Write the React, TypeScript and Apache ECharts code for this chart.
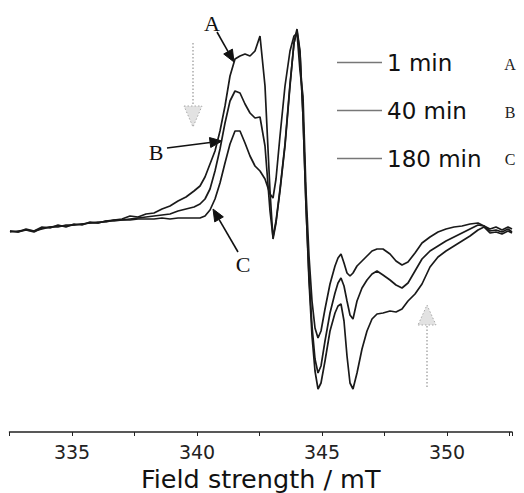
import React, { useEffect, useRef } from "react";
import * as echarts from "echarts";

// Magnetic field (mT)
const fields = [
  332.52, 332.84, 333.16, 333.48, 333.8, 334.12, 334.44, 334.76, 335.08, 335.4,
  335.72, 336.04, 336.36, 336.68, 337.0, 337.32, 337.64, 337.96, 338.28, 338.6,
  338.92, 339.24, 339.56, 339.88, 340.12, 340.32, 340.52, 340.72, 340.92, 341.12,
  341.32, 341.52, 341.72, 341.92, 342.12, 342.32, 342.52, 342.72, 342.92, 343.04,
  343.16, 343.32, 343.52, 343.72, 343.88, 344.0, 344.12, 344.24, 344.36, 344.48,
  344.6, 344.72, 344.84, 344.96, 345.12, 345.32, 345.52, 345.64, 345.76, 345.88,
  346.0, 346.12, 346.24, 346.4, 346.6, 346.8, 347.0, 347.2, 347.44, 347.72,
  347.96, 348.2, 348.44, 348.72, 349.0, 349.32, 349.64, 349.96, 350.28, 350.6,
  350.92, 351.24, 351.48, 351.72, 351.96, 352.2, 352.44, 352.6,
];

// EPR intensity (arb. units)
const spectrum1min = [
  2, 1, 4, 2, 6, 5, 8, 6, 9, 8,
  11, 10, 12, 13, 14, 17, 16, 19, 20, 24,
  27, 32, 36, 42, 47, 56, 69, 82, 102, 127,
  157, 174, 177, 179, 177, 182, 197, 147, 42, -6,
  10, 42, 87, 147, 190, 204, 182, 117, 27, -48,
  -103, -138, -156, -150, -128, -98, -80, -73, -71, -88,
  -123, -150, -156, -140, -116, -98, -86, -81, -80, -78,
  -79, -76, -68, -61, -51, -34, -24, -18, -13, -8,
  -3, 3, 6, 0, 1, -1, 2, 0,
];

const spectrum40min = [
  1, 2, 3, 1, 5, 6, 7, 7, 8, 9,
  10, 11, 11, 13, 13, 14, 15, 16, 17, 18,
  19, 22, 24, 26, 29, 34, 44, 62, 84, 110,
  132, 142, 140, 129, 120, 115, 116, 87, 22, -4,
  12, 44, 89, 149, 190, 202, 180, 117, 27, -43,
  -93, -126, -140, -133, -108, -80, -60, -50, -45, -53,
  -68, -82, -86, -68, -55, -47, -41, -38, -42, -47,
  -52, -55, -50, -38, -26, -18, -13, -8, -4, 0,
  4, 8, 7, 4, 6, 3, 6, 4,
];

const spectrum180min = [
  2, 1, 3, 2, 4, 6, 6, 8, 8, 9,
  10, 10, 12, 12, 13, 13, 14, 14, 14, 15,
  14, 15, 15, 15, 15, 17, 23, 34, 50, 70,
  89, 102, 102, 90, 77, 67, 62, 54, 39, 35,
  54, 97, 147, 182, 197, 200, 162, 137, 42, -23,
  -68, -95, -105, -98, -76, -51, -33, -25, -21, -30,
  -40, -43, -40, -33, -28, -23, -18, -16, -16, -21,
  -28, -32, -29, -20, -10, -4, 1, 4, 6, 7,
  9, 10, 7, 2, 3, 1, 4, 1,
];

const seriesNames = ["1 min", "40 min", "180 min"];
const seriesLetters = ["A", "B", "C"];
const tickLabels = [335, 340, 345, 350];

function arrow(x1: number, y1: number, x2: number, y2: number, head: number, half: number, color: string) {
  const dx = x2 - x1;
  const dy = y2 - y1;
  const len = Math.sqrt(dx * dx + dy * dy);
  const ux = dx / len;
  const uy = dy / len;
  const bx = x2 - ux * head;
  const by = y2 - uy * head;
  const px = -uy;
  const py = ux;
  return [
    { type: "line", shape: { x1, y1, x2: bx, y2: by }, style: { stroke: color, lineWidth: 1.6 } },
    {
      type: "polygon",
      shape: { points: [[x2, y2], [bx + px * half, by + py * half], [bx - px * half, by - py * half]] },
      style: { fill: color, stroke: color, lineWidth: 1 },
    },
  ];
}

export default function App() {
  const ref = useRef<HTMLDivElement>(null);
  useEffect(() => {
    if (!ref.current) return;
    const chart = echarts.init(ref.current, null, { renderer: "svg" });
    const all = [spectrum1min, spectrum40min, spectrum180min];
    const serif = "'Liberation Serif', 'Times New Roman', serif";
    const sans = "'DejaVu Sans', 'Liberation Sans', Arial, sans-serif";
    const legendLetterY = [64, 112, 159];
    chart.setOption({
      animation: false,
      backgroundColor: "#fff",
      textStyle: { fontFamily: sans },
      grid: { left: 9.5, right: 12, top: 21, bottom: 61, containLabel: false, outerBoundsMode: "none" },
      legend: {
        data: seriesNames,
        orient: "vertical",
        left: 337,
        top: 51,
        padding: 0,
        icon: "rect",
        itemWidth: 45,
        itemHeight: 1.5,
        itemGap: 25,
        selectedMode: false,
        itemStyle: { color: "#777" },
        textStyle: { fontSize: 23, color: "#111", fontFamily: sans },
      },
      xAxis: {
        type: "value",
        min: 332.5,
        max: 352.6,
        interval: 2.5,
        name: "Field strength / mT",
        nameLocation: "middle",
        nameGap: 32,
        nameTextStyle: { fontSize: 25.5, color: "#111", fontFamily: sans },
        axisLine: { onZero: false, lineStyle: { color: "#222", width: 1.5 } },
        axisTick: { length: 4, lineStyle: { color: "#222" } },
        splitLine: { show: false },
        axisLabel: {
          fontSize: 19,
          color: "#222",
          margin: 10,
          fontFamily: sans,
          formatter: (v: number) => (tickLabels.some((t) => Math.abs(t - v) < 1e-6) ? String(v) : ""),
        },
      },
      yAxis: { type: "value", show: false, min: -199, max: 212, splitLine: { show: false } },
      series: seriesNames.map((name, k) => ({
        name,
        type: "line",
        symbol: "none",
        data: fields.map((f, i) => [f, all[k][i]]),
        lineStyle: { color: "#1a1a1a", width: 1.7 },
        itemStyle: { color: "#1a1a1a" },
      })),
      graphic: [
        ...seriesLetters.map((t, i) => ({
          type: "text",
          x: 510,
          y: legendLetterY[i],
          style: { text: t, font: `16px ${serif}`, fill: "#222", align: "center", verticalAlign: "middle" },
        })),
        { type: "text", x: 212, y: 23, style: { text: "A", font: `22px ${serif}`, fill: "#111", align: "center", verticalAlign: "middle" } },
        { type: "text", x: 156, y: 152, style: { text: "B", font: `22px ${serif}`, fill: "#111", align: "center", verticalAlign: "middle" } },
        { type: "text", x: 243, y: 264, style: { text: "C", font: `22px ${serif}`, fill: "#111", align: "center", verticalAlign: "middle" } },
        ...arrow(217, 32, 234, 62, 12, 5, "#111"),
        ...arrow(167, 148, 222, 141, 12, 5, "#111"),
        ...arrow(238, 252, 213, 209, 12, 5, "#111"),
        // grey dotted arrows showing trend
        { type: "line", shape: { x1: 193, y1: 43, x2: 193, y2: 106 }, style: { stroke: "#aaa", lineWidth: 1.5, lineDash: [1.5, 2] } },
        { type: "polygon", shape: { points: [[184, 106], [202, 106], [193, 127]] }, style: { fill: "#e2e2e2", stroke: "#aaa", lineWidth: 1, lineDash: [1.5, 2] } },
        { type: "line", shape: { x1: 427, y1: 387, x2: 427, y2: 325 }, style: { stroke: "#aaa", lineWidth: 1.5, lineDash: [1.5, 2] } },
        { type: "polygon", shape: { points: [[418, 325], [436, 325], [427, 305]] }, style: { fill: "#e2e2e2", stroke: "#aaa", lineWidth: 1, lineDash: [1.5, 2] } },
      ],
    });
    return () => chart.dispose();
  }, []);
  return <div ref={ref} style={{ width: 524, height: 493, position: "absolute", left: 0, top: 0 }} />;
}
